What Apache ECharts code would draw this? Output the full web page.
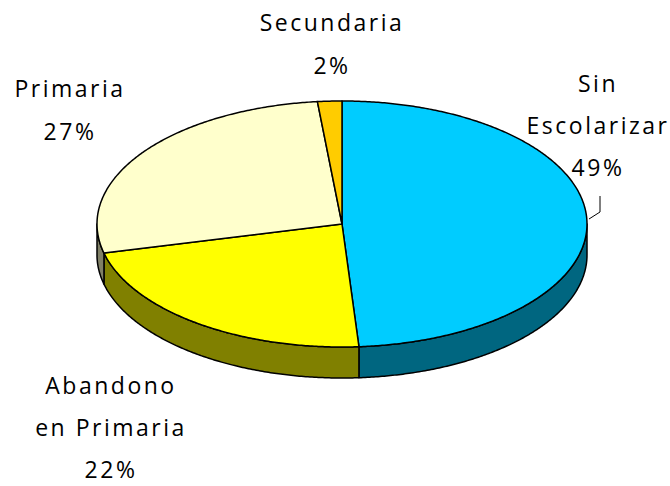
<!DOCTYPE html>
<html><head><meta charset="utf-8">
<script src="https://cdn.jsdelivr.net/npm/echarts@6/dist/echarts.min.js"></script>
<style>html,body{margin:0;padding:0;background:#fff}#c{width:670px;height:486px}#c text{letter-spacing:2.5px}</style>
</head><body><div id="c"></div><script>
// ---- data ----
const categories = ['Sin Escolarizar', 'Abandono en Primaria', 'Primaria', 'Secundaria'];
const labelLines = ['Sin\nEscolarizar', 'Abandono\nen Primaria', 'Primaria', 'Secundaria'];
const values = [48.9, 22.3, 27.2, 1.6];

// ---- styles / layout ----
const topColors = ['#00CCFF', '#FFFF00', '#FFFFCC', '#FFCC00'];
const sideColors = ['#006680', '#808000', '#808066', '#806600'];
const PIE = { cx: 342, cy: 224, rx: 245, ry: 123, depth: 31 };
const LABEL_POS = [[598, 125], [111, 427], [70, 109], [332, 43]];
const LINE_PITCH = [42, 42, 43, 43];
const LEADER = [[[600, 196], [600, 212], [589, 219]], null, null, null];

const total = values.reduce((s, v) => s + v, 0);
const starts = []; let acc = 0;
values.forEach(v => { starts.push(acc / total * 360); acc += v; });

function pt(deg, dy) {
  const r = deg * Math.PI / 180;
  return [PIE.cx + PIE.rx * Math.sin(r), PIE.cy - PIE.ry * Math.cos(r) + (dy || 0)];
}
function arc(a, b, dy) {
  const pts = []; const n = Math.max(2, Math.ceil(Math.abs(b - a) * 2));
  for (let k = 0; k <= n; k++) pts.push(pt(a + (b - a) * k / n, dy));
  return pts;
}
function range(i) {
  const a = starts[i];
  return [a, a + values[i] / total * 360];
}
const lineStyle = { stroke: '#000', lineWidth: 1.5, lineJoin: 'round' };

const data = values.map((v, i) => ({ name: categories[i], value: [v, i] }));

const chart = echarts.init(document.getElementById('c'), null, { renderer: 'svg' });
chart.setOption({
  animation: false,
  series: [
    {
      type: 'custom', coordinateSystem: 'none', silent: true, z: 1, data: data,
      renderItem: function (params, api) {
        const i = api.value(1);
        const [s, e] = range(i);
        const a = Math.max(s, 90), b = Math.min(e, 270);
        if (b <= a) return { type: 'group', children: [] };
        const pts = arc(a, b, 0).concat(arc(b, a, PIE.depth));
        return { type: 'polygon', shape: { points: pts }, style: Object.assign({ fill: sideColors[i] }, lineStyle) };
      }
    },
    {
      type: 'custom', coordinateSystem: 'none', silent: true, z: 2, data: data,
      renderItem: function (params, api) {
        const i = api.value(1);
        const [s, e] = range(i);
        const pts = [[PIE.cx, PIE.cy]].concat(arc(s, e, 0));
        const children = [
          { type: 'polygon', shape: { points: pts }, style: Object.assign({ fill: topColors[i] }, lineStyle) }
        ];
        const lines = labelLines[i].split('\n').concat([Math.round(values[i] / total * 100) + '%']);
        lines.forEach((t, k) => {
          children.push({ type: 'text', x: LABEL_POS[i][0], y: LABEL_POS[i][1] + (k - (lines.length - 1) / 2) * LINE_PITCH[i],
            style: { text: t, fontFamily: 'Open Sans', fontSize: 23, fill: '#000', align: 'center', verticalAlign: 'middle', lineHeight: 23 } });
        });
        if (LEADER[i]) children.push({ type: 'polyline', shape: { points: LEADER[i] }, style: { stroke: '#000', lineWidth: 1, fill: null } });
        return { type: 'group', children: children };
      }
    }
  ]
});
</script></body></html>
